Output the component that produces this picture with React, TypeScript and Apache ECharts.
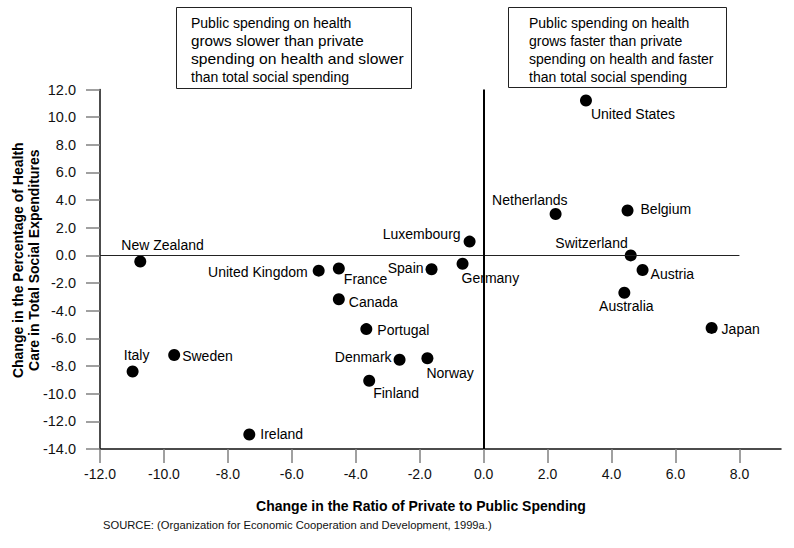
import React, { useEffect, useRef } from "react";
import * as echarts from "echarts";

const countries = [
  "United States", "Netherlands", "Belgium", "Switzerland", "Austria", "Luxembourg", "Germany",
  "Spain", "France", "Canada", "United Kingdom", "New Zealand", "Italy", "Sweden", "Ireland",
  "Portugal", "Denmark", "Norway", "Finland", "Australia", "Japan",
];
const ratioChange = [
  3.2, 2.25, 4.5, 4.6, 4.97, -0.44, -0.66,
  -1.63, -4.53, -4.53, -5.16, -10.74, -10.98, -9.68, -7.33,
  -3.67, -2.63, -1.76, -3.58, 4.4, 7.13,
];
const healthShareChange = [
  11.2, 3.0, 3.25, 0.0, -1.05, 1.0, -0.6,
  -1.0, -0.95, -3.17, -1.1, -0.44, -8.39, -7.2, -12.95,
  -5.33, -7.55, -7.44, -9.06, -2.7, -5.24,
];
const xTicks = [-12, -10, -8, -6, -4, -2, 0, 2, 4, 6, 8];

const xAxisTitle = "Change in the Ratio of Private to Public Spending";
const yAxisTitle = "Change in the Percentage of Health\nCare in Total Social Expenditures";
const leftNoteLines = [
  "Public spending on health",
  "grows slower than private",
  "spending on health and slower",
  "than total social spending",
];
const rightNote = "Public spending on health\ngrows faster than private\nspending on health and faster\nthan total social spending";
const sourceNote = "SOURCE: (Organization for Economic Cooperation and Development, 1999a.)";

// label placement (style only): [align, dx, dy]
const labelPlacement: Record<string, [string, number, number]> = {
  "United States": ["left", 5, 13],
  Netherlands: ["right", 12, -14],
  Belgium: ["left", 13, -1],
  Switzerland: ["right", -3, -12],
  Austria: ["left", 8, 4],
  Luxembourg: ["right", -9, -8],
  Germany: ["left", -1, 14],
  Spain: ["right", -8, -1],
  France: ["left", 5, 10],
  Canada: ["left", 10, 3],
  "United Kingdom": ["right", -11, 1],
  "New Zealand": ["left", -19, -17],
  Italy: ["center", 4, -16],
  Sweden: ["left", 8, 1],
  Ireland: ["left", 11, 0],
  Portugal: ["left", 11, 1],
  Denmark: ["right", -8, -3],
  Norway: ["left", -1, 15],
  Finland: ["left", 4, 12],
  Australia: ["center", 2, 13],
  Japan: ["left", 10, 1],
};
// horizontal stretch of the left note's lines (style only)
const leftNoteStretch = [1, 1.09, 1.12, 1];

const FONT = "'Liberation Sans', Arial, sans-serif";

export default function App() {
  const ref = useRef<HTMLDivElement>(null);
  useEffect(() => {
    if (!ref.current) return;
    const chart = echarts.init(ref.current, null, { renderer: "svg" });
    const data = countries.map((name, i) => {
      const [align, dx, dy] = labelPlacement[name];
      return {
        name,
        value: [ratioChange[i], healthShareChange[i]],
        label: {
          show: true,
          position: "inside",
          align,
          verticalAlign: "middle",
          offset: [dx, dy],
          formatter: name,
        },
      };
    });
    const leftTexts = leftNoteLines.map((line, i) => ({
      type: "text",
      x: 191,
      y: 23 + i * 18,
      scaleX: leftNoteStretch[i],
      style: {
        text: line,
        font: `14px ${FONT}`,
        fill: "#000",
        textVerticalAlign: "middle",
        verticalAlign: "middle",
      },
    }));
    chart.setOption({
      animation: false,
      backgroundColor: "#ffffff",
      textStyle: { fontFamily: FONT },
      grid: {
        left: 100, right: 13, top: 89.5, bottom: 99,
        containLabel: false, outerBoundsMode: "none",
      },
      xAxis: {
        type: "value",
        min: -12,
        max: 9.3,
        name: xAxisTitle,
        nameLocation: "middle",
        nameGap: 50,
        nameMoveOverlap: false,
        nameTextStyle: {
          fontFamily: FONT, fontSize: 14, fontWeight: "bold", color: "#000",
          padding: [0, 39, 0, 0],
        },
        splitLine: { show: false },
        axisLine: { show: true, onZero: false, lineStyle: { color: "#111", width: 1.5 } },
        axisTick: {
          show: true, length: 14, inside: false, customValues: xTicks,
          lineStyle: { color: "#808080", width: 1.5 },
        },
        axisLabel: {
          show: true, margin: 18, customValues: xTicks,
          fontFamily: FONT, fontSize: 14, color: "#111",
          formatter: (v: number) => v.toFixed(1),
        },
      },
      yAxis: {
        type: "value",
        min: -14,
        max: 12,
        interval: 2,
        name: yAxisTitle,
        nameLocation: "middle",
        nameGap: 58,
        nameMoveOverlap: false,
        nameTextStyle: {
          fontFamily: FONT, fontSize: 14, fontWeight: "bold", color: "#000",
          lineHeight: 16, padding: [0, 0, 0, 18],
        },
        splitLine: { show: false },
        axisLine: { show: true, onZero: false, lineStyle: { color: "#111", width: 1.5 } },
        axisTick: { show: true, length: 14, lineStyle: { color: "#808080", width: 1.5 } },
        axisLabel: {
          show: true, margin: 24,
          fontFamily: FONT, fontSize: 14.5, color: "#111",
          formatter: (v: number) => v.toFixed(1),
        },
      },
      series: [
        {
          type: "scatter",
          symbol: "circle",
          symbolSize: 12,
          itemStyle: { color: "#000", opacity: 1 },
          label: { fontFamily: FONT, fontSize: 14, color: "#000" },
          data,
          markLine: {
            silent: true,
            symbol: "none",
            label: { show: false },
            data: [
              [
                { coord: [-12, 0], lineStyle: { color: "#222", width: 1, type: "solid" } },
                { coord: [8, 0] },
              ],
              [
                { coord: [0, -14], lineStyle: { color: "#000", width: 2, type: "solid" } },
                { coord: [0, 12] },
              ],
            ],
          },
          z: 3,
        },
      ],
      graphic: [
        {
          type: "rect",
          shape: { x: 176.5, y: 7.5, width: 235, height: 81 },
          style: { fill: "#fff", stroke: "#222", lineWidth: 1 },
        },
        ...leftTexts,
        {
          type: "rect",
          shape: { x: 508.5, y: 7.5, width: 218, height: 80 },
          style: { fill: "#fff", stroke: "#222", lineWidth: 1 },
        },
        {
          type: "text",
          x: 529,
          y: 14,
          style: { text: rightNote, font: `14px ${FONT}`, fill: "#000", lineHeight: 18 },
        },
        {
          type: "text",
          x: 103,
          y: 519,
          style: { text: sourceNote, font: `11.2px ${FONT}`, fill: "#111" },
        },
      ],
    });
    return () => chart.dispose();
  }, []);
  return <div ref={ref} style={{ width: 794, height: 548, position: "absolute", left: 0, top: 0 }} />;
}
